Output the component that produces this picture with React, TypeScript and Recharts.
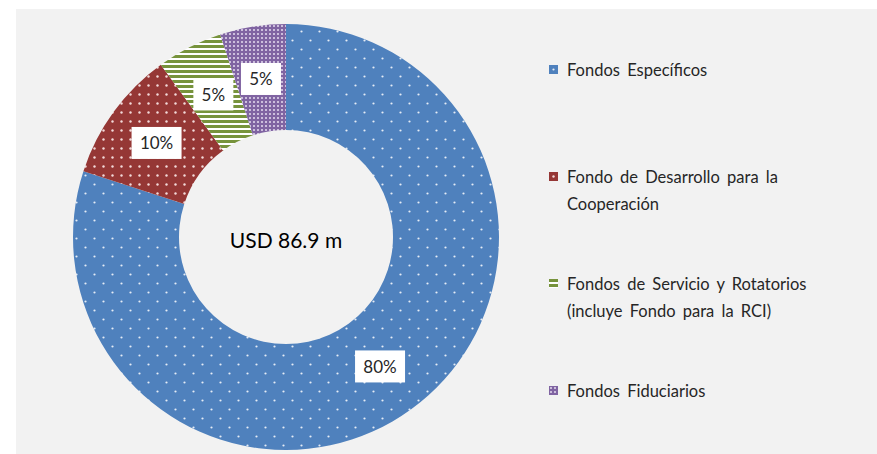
import { PieChart, Pie, Cell, Legend } from 'recharts';

const categories = [
  'Fondos Específicos',
  'Fondo de Desarrollo para la Cooperación',
  'Fondos de Servicio y Rotatorios (incluye Fondo para la RCI)',
  'Fondos Fiduciarios',
];
const legendLines = [
  ['Fondos Específicos'],
  ['Fondo de Desarrollo para la', 'Cooperación'],
  ['Fondos de Servicio y Rotatorios', '(incluye Fondo para la RCI)'],
  ['Fondos Fiduciarios'],
];
const shares = [80, 10, 5, 5];
const centerLabel = 'USD 86.9 m';

const patternIds = ['patBlue', 'patRed', 'patGreen', 'patPurple'];
const FONT = "Lato, 'Open Sans', sans-serif";
const RADIAN = Math.PI / 180;

const data = categories.map((name, i) => ({ name, value: shares[i] }));

function Patterns() {
  return (
    <svg width={0} height={0} style={{ position: 'absolute' }}>
      <defs>
        <pattern id="patBlue" width={18} height={18} patternUnits="userSpaceOnUse">
          <rect width={18} height={18} fill="#4F81BD" />
          <circle cx={4.5} cy={4.5} r={1.1} fill="#ffffff" fillOpacity={0.85} />
          <circle cx={13.5} cy={13.5} r={1.1} fill="#ffffff" fillOpacity={0.85} />
        </pattern>
        <pattern id="patRed" width={9} height={9} patternUnits="userSpaceOnUse">
          <rect width={9} height={9} fill="#953735" />
          <circle cx={4.5} cy={4.5} r={1.2} fill="#f3d9d9" />
        </pattern>
        <pattern id="patGreen" width={6} height={5} patternUnits="userSpaceOnUse">
          <rect width={6} height={5} fill="#ffffff" />
          <rect width={6} height={3} fill="#77933C" />
        </pattern>
        <pattern id="patPurple" width={4} height={4} patternUnits="userSpaceOnUse">
          <rect width={4} height={4} fill="#8064A2" />
          <circle cx={2} cy={2} r={1} fill="#e6dcf0" />
        </pattern>
      </defs>
    </svg>
  );
}

function renderLabel(props: any) {
  const { cx, cy, midAngle, innerRadius, outerRadius, value } = props;
  const r = (innerRadius + outerRadius) / 2;
  const x = cx + r * Math.cos(-midAngle * RADIAN);
  const y = cy + r * Math.sin(-midAngle * RADIAN);
  const text = `${value}%`;
  const w = text.length * 10 + 20;
  const h = 32;
  return (
    <g>
      <rect x={x - w / 2} y={y - h / 2} width={w} height={h} fill="#ffffff" />
      <text x={x} y={y} textAnchor="middle" dominantBaseline="central"
        fontSize={17} fontFamily={FONT} fill="#262626">
        {text}
      </text>
    </g>
  );
}

function LegendContent() {
  return (
    <div style={{ fontFamily: FONT, fontSize: 16.5, color: '#262626', wordSpacing: 3 }}>
      {legendLines.map((lines, i) => (
        <div key={i} style={{ position: 'relative', height: 107, lineHeight: '27px', paddingLeft: 18 }}>
          <svg width={9} height={9} style={{ position: 'absolute', left: 0, top: 8 }}>
            <rect width={9} height={9} fill={`url(#${patternIds[i]})`} />
          </svg>
          {lines.map((l, j) => (
            <div key={j} style={{ whiteSpace: 'nowrap' }}>{l}</div>
          ))}
        </div>
      ))}
    </div>
  );
}

export default function App() {
  return (
    <div style={{ position: 'absolute', left: 0, top: 0, width: 877, height: 454, background: '#ffffff' }}>
      <Patterns />
      <div style={{ position: 'absolute', left: 16, top: 9, width: 861, height: 445, background: '#F2F2F2' }} />
      <div style={{ position: 'absolute', left: 0, top: 0 }}>
        <PieChart width={877} height={454} margin={{ top: 0, right: 0, bottom: 0, left: 0 }}>
          <Pie
            data={data}
            dataKey="value"
            nameKey="name"
            cx={286}
            cy={237}
            innerRadius={107}
            outerRadius={213}
            startAngle={90}
            endAngle={-270}
            stroke="none"
            label={renderLabel}
            labelLine={false}
            isAnimationActive={false}
          >
            {data.map((d, i) => (
              <Cell key={d.name} fill={`url(#${patternIds[i]})`} />
            ))}
          </Pie>
          <Legend
            layout="vertical"
            content={() => <LegendContent />}
            wrapperStyle={{ left: 549, top: 57, width: 320 }}
          />
        </PieChart>
      </div>
      <div style={{
        position: 'absolute', left: 186, top: 224, width: 200, textAlign: 'center',
        fontFamily: FONT, fontSize: 21, color: '#000000', lineHeight: '32px',
      }}>
        {centerLabel}
      </div>
    </div>
  );
}
